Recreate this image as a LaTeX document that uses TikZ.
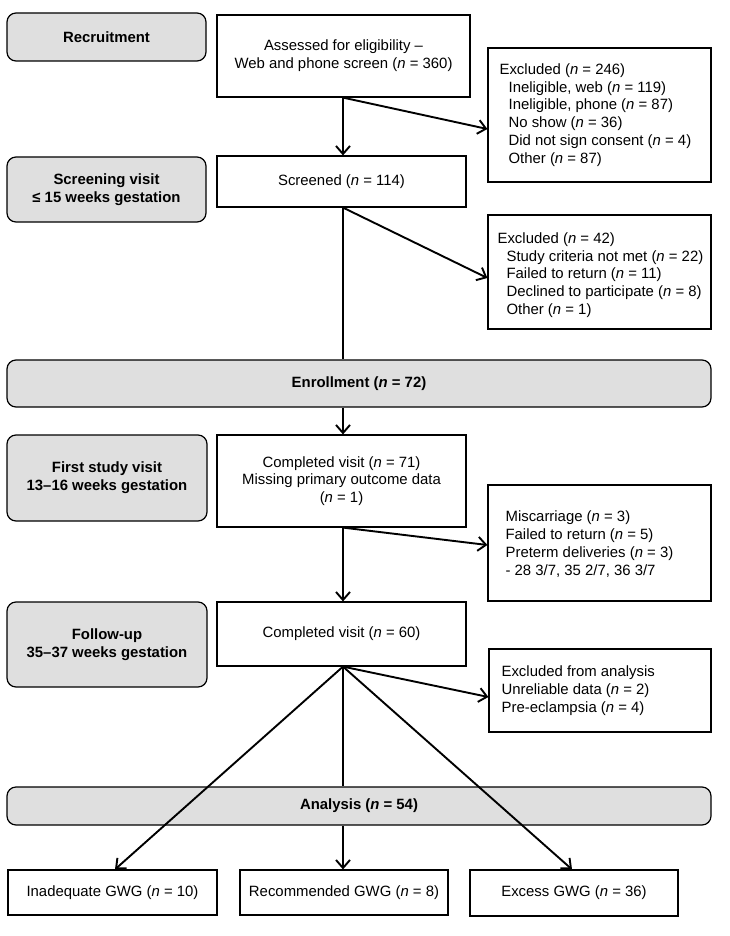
\documentclass[tikz,border=0pt]{standalone}
\usepackage{fontspec}
\setmainfont{Liberation Sans}
\usetikzlibrary{arrows.meta,calc}
\definecolor{boxgray}{HTML}{DFDFDF}
\begin{document}
\begin{tikzpicture}[x=1pt,y=-1pt,
  every node/.style={font=\fontsize{14.9}{17.8}\selectfont, inner sep=0pt},
  gbox/.style={draw, fill=boxgray, rounded corners=9pt, line width=1.2pt, align=center, font=\fontsize{14.9}{18}\selectfont\bfseries},
  wbox/.style={draw, fill=white, line width=1.2pt, align=center},
  lbox/.style={draw, fill=white, line width=1.2pt},
  ltext/.style={anchor=west, align=left},
  conn/.style={line width=1.9pt},
  arr/.style={conn, -{Straight Barb[length=8pt,width=14pt,line width=1.9pt]}}
]
\useasboundingbox (0,0) rectangle (730,936);
\coordinate (sp) at (343,0);

% left column
\node[gbox, minimum width=199pt, minimum height=48pt] (recruit) at (106.5,37) {Recruitment};
\node[gbox, minimum width=199pt, minimum height=65pt] (screening) at (106.5,189.5) {Screening visit\\≤ 15 weeks gestation};
\node[gbox, minimum width=704pt, minimum height=47pt] (enroll) at (359,383.5) {Enrollment (\textit{n} = 72)};
\node[gbox, minimum width=200pt, minimum height=86pt] (first) at (107,478) {First study visit\\13–16 weeks gestation};
\node[gbox, minimum width=200pt, minimum height=85pt] (follow) at (107,644.5) {Follow-up\\35–37 weeks gestation};
\node[gbox, minimum width=704pt, minimum height=38pt] (analysis) at (359,806) {Analysis (\textit{n} = 54)};

% main column
\node[wbox, minimum width=253pt, minimum height=82pt] (assessed) at (343.5,56) {Assessed for eligibility –\\Web and phone screen (\textit{n} = 360)};
\node[wbox, minimum width=249pt, minimum height=51pt] (screened) at (341.5,181.5) {Screened (\textit{n} = 114)};
\node[wbox, minimum width=249pt, minimum height=92pt] (c71) at (341.5,481) {Completed visit (\textit{n} = 71)\\Missing primary outcome data\\(\textit{n} = 1)};
\node[wbox, minimum width=249pt, minimum height=64pt] (c60) at (341.5,634) {Completed visit (\textit{n} = 60)};

% exclusion boxes
\node[lbox, minimum width=223pt, minimum height=134pt] (ex1) at (599.5,115) {};
\node[ltext] (ex1t) at ([xshift=12pt]ex1.west) {Excluded (\textit{n} = 246)\\
\hspace*{9pt}Ineligible, web (\textit{n} = 119)\\
\hspace*{9pt}Ineligible, phone (\textit{n} = 87)\\
\hspace*{9pt}No show (\textit{n} = 36)\\
\hspace*{9pt}Did not sign consent (\textit{n} = 4)\\
\hspace*{9pt}Other (\textit{n} = 87)};
\node[lbox, minimum width=223pt, minimum height=114pt] (ex2) at (599.5,272) {};
\node[ltext] (ex2t) at ([xshift=10pt,yshift=-3pt]ex2.west) {Excluded (\textit{n} = 42)\\
\hspace*{9pt}Study criteria not met (\textit{n} = 22)\\
\hspace*{9pt}Failed to return (\textit{n} = 11)\\
\hspace*{9pt}Declined to participate (\textit{n} = 8)\\
\hspace*{9pt}Other (\textit{n} = 1)};
\node[lbox, minimum width=223pt, minimum height=116pt] (misc) at (599.5,543) {};
\node[ltext] (misct) at ([xshift=18pt,yshift=-1pt]misc.west) {Miscarriage (\textit{n} = 3)\\
Failed to return (\textit{n} = 5)\\
Preterm deliveries (\textit{n} = 3)\\
- 28 3/7, 35 2/7, 36 3/7};
\node[lbox, minimum width=222pt, minimum height=83pt] (exA) at (600,690.5) {};
\node[ltext] (exAt) at ([xshift=13pt]exA.west) {Excluded from analysis\\
Unreliable data (\textit{n} = 2)\\
Pre-eclampsia (\textit{n} = 4)};

% bottom boxes
\node[wbox, minimum width=209pt, minimum height=45pt] (inad) at (112.5,892.5) {Inadequate GWG (\textit{n} = 10)};
\node[wbox, minimum width=208pt, minimum height=45pt] (rec) at (344,892.5) {Recommended GWG (\textit{n} = 8)};
\node[wbox, minimum width=208pt, minimum height=46pt] (exc) at (574,893) {Excess GWG (\textit{n} = 36)};

% connectors
\draw[arr] (assessed.south -| sp) -- ([yshift=-14pt]ex1.west);
\draw[arr] (assessed.south -| sp) -- (screened.north -| sp);
\draw[conn] (screened.south -| sp) -- (enroll.north -| sp);
\draw[arr] (screened.south -| sp) -- ([yshift=-6pt]ex2.west);
\draw[arr] (enroll.south -| sp) -- (c71.north -| sp);
\draw[arr] (c71.south -| sp) -- (c60.north -| sp);
\draw[arr] (c71.south -| sp) -- ([yshift=-2pt]misc.west);
\draw[arr] (c60.south -| sp) -- ([yshift=-6.5pt]exA.west);
\draw[conn] (c60.south -| sp) -- (analysis.north -| sp);
\draw[arr] (analysis.south -| sp) -- (rec.north -| sp);
\draw[arr] (c60.south -| sp) -- ([xshift=2.5pt]inad.north);
\draw[arr] (c60.south -| sp) -- ([xshift=-2pt]exc.north);
\end{tikzpicture}
\end{document}
